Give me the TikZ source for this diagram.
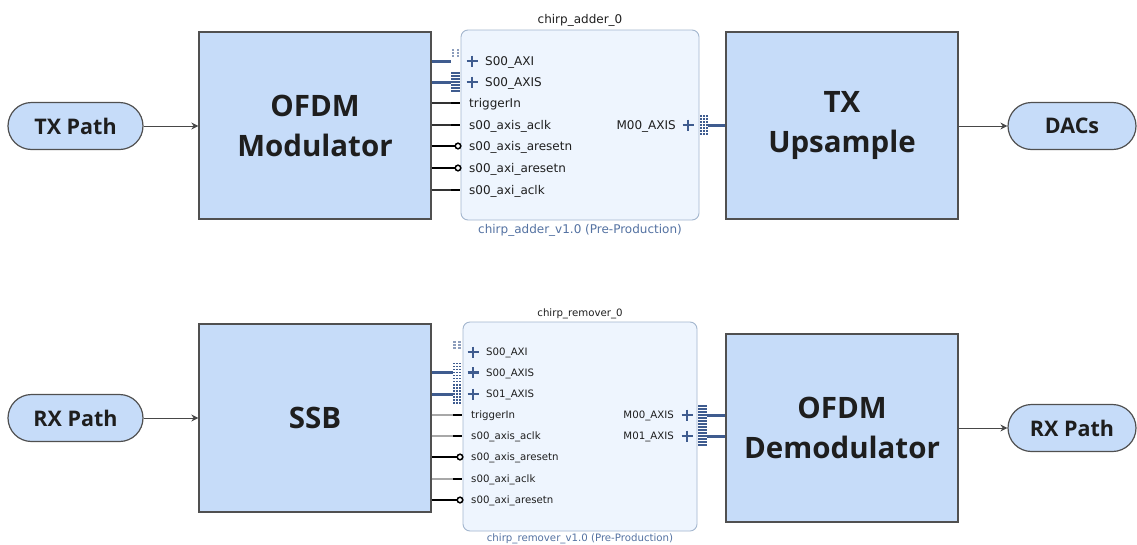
\documentclass[tikz,border=0pt]{standalone}
\usepackage{fontspec}
\newfontfamily\lblfont{Open Sans}
\newfontfamily\pinfont{DejaVu Sans}
\usetikzlibrary{arrows.meta}
\definecolor{blkfill}{HTML}{C6DCF9}
\definecolor{blkdraw}{HTML}{505050}
\definecolor{ipfill}{HTML}{EEF5FE}
\definecolor{ipdraw}{HTML}{A3B6CE}
\definecolor{buscol}{HTML}{3F5C8F}
\definecolor{subcol}{HTML}{5472A2}
\definecolor{txtcol}{HTML}{1E1E1E}
\definecolor{wiregray}{HTML}{A8A8A8}
\tikzset{
  blk/.style={draw=blkdraw, fill=blkfill, line width=1.3pt, align=center,
    text=txtcol, inner sep=0pt, minimum width=232pt,
    font=\lblfont\bfseries\fontsize{29.5}{40}\selectfont},
  pill/.style={draw=blkdraw, fill=blkfill, line width=1.2pt, rounded corners=23.5pt,
    minimum height=47pt, inner sep=0pt, text=txtcol,
    font=\lblfont\bfseries\fontsize{21.5}{26}\selectfont},
  ip/.style={draw=ipdraw, fill=ipfill, line width=0.9pt, rounded corners=7pt, inner sep=0pt},
  pinA/.style={font=\pinfont\fontsize{12}{14}\selectfont, text=txtcol, inner sep=0pt},
  pinB/.style={font=\pinfont\fontsize{10.2}{12}\selectfont, text=txtcol, inner sep=0pt},
  subA/.style={font=\pinfont\fontsize{12}{14}\selectfont, text=subcol, inner sep=0pt},
  subB/.style={font=\pinfont\fontsize{10.2}{12}\selectfont, text=subcol, inner sep=0pt},
  arr/.style={draw=blkdraw!90!black, line width=1pt, -{Stealth[length=7pt,width=7pt]}},
  bus/.style={draw=buscol, line width=3pt},
  wire/.style={draw=black!80, line width=1.2pt},
  lwire/.style={draw=wiregray, line width=1.2pt},
  rwire/.style={draw=black, line width=1.8pt},
  stub/.style={draw=black, line width=2.5pt},
  plusmark/.style={draw=buscol, line width=2.2pt},
  busicon/.pic={
    \foreach \i in {-9,-6,...,9}{\foreach \j in {-3,0,3}{
      \fill[buscol] (\j-1.1,\i-0.9) rectangle (\j+1.1,\i+0.9);}}
  },
  busiconlight/.pic={
    \foreach \i in {-8,-5,-2}{\foreach \j in {-2.5,2.5}{
      \fill[buscol!60] (\j-1.1,\i-0.9) rectangle (\j+1.1,\i+0.9);}}
  }
}
\begin{document}
\begin{tikzpicture}[x=1pt,y=-1pt]
\useasboundingbox[fill=white] (0,0) rectangle (1137,544);

% ---------------- top row ----------------
\node[pill, minimum width=135pt] (txp) at (75.5,126) {TX Path};
\node[blk, minimum height=187pt] (mod) at (315,125.5) {OFDM\\Modulator};
\node[ip, minimum width=238pt, minimum height=190pt] (adder) at (580,125) {};
\node[blk, minimum height=187pt] (ups) at (842,125.5) {TX\\Upsample};
\node[pill, minimum width=128pt] (dacs) at (1072,126) {DACs};
\node[pinA, anchor=base] (adtitle) at (580,23.5) {chirp\_adder\_0};
\node[subA, anchor=base] (adsub) at (580,233.5) {chirp\_adder\_v1.0 (Pre-Production)};

\draw[arr] (txp.east) -- (mod.west |- txp.east);
\draw[arr] (ups.east |- dacs.west) -- (dacs.west);

% adder bus pins (left)
\coordinate (aS0) at (451,61);
\coordinate (aS1) at (451,82);
\pic at (455.5,58) {busiconlight};
\pic at (455.5,82) {busicon};
\draw[bus] (mod.east |- aS0) -- (aS0);
\draw[bus] (mod.east |- aS1) -- (aS1);
\foreach \y/\t in {61/S00\_AXI, 82/S00\_AXIS}{
  \draw[plusmark] (466.5,\y) -- (477.5,\y) (472,\y-5.5) -- (472,\y+5.5);
  \node[pinA, anchor=base west] at (485,\y+4.4) {\t};
}
% adder simple pins
\foreach \y/\t in {103/triggerIn, 125/s00\_axis\_aclk, 190/s00\_axi\_aclk}{
  \coordinate (p) at (451,\y);
  \draw[wire] (mod.east |- p) -- (p);
  \draw[stub] (p) -- (460,\y);
  \node[pinA, anchor=base west] at (469,\y+4.4) {\t};
}
\foreach \y/\t in {146/s00\_axis\_aresetn, 168/s00\_axi\_aresetn}{
  \coordinate (p) at (455.2,\y);
  \draw[rwire] (mod.east |- p) -- (p);
  \draw[draw=black, fill=white, line width=1.5pt] (458,\y) circle (2.8pt);
  \node[pinA, anchor=base west] at (469,\y+4.4) {\t};
}
% adder output
\coordinate (aM0) at (708,125);
\pic at (704,125) {busicon};
\draw[bus] (aM0) -- (ups.west |- aM0);
\draw[plusmark] (682.5,125) -- (693.5,125) (688,119.5) -- (688,130.5);
\node[pinA, anchor=base east] at (676,129.4) {M00\_AXIS};

% ---------------- bottom row ----------------
\node[pill, minimum width=135pt] (rxin) at (75.5,418) {RX Path};
\node[blk, minimum height=188pt] (ssb) at (315,418) {SSB};
\node[ip, minimum width=234pt, minimum height=209pt] (remover) at (580,426.5) {};
\node[blk, minimum height=188pt] (demod) at (842,428) {OFDM\\Demodulator};
\node[pill, minimum width=128pt] (rxout) at (1072,428) {RX Path};
\node[pinB, anchor=base] (rmtitle) at (580,316.5) {chirp\_remover\_0};
\node[subB, anchor=base] (rmsub) at (580,541.5) {chirp\_remover\_v1.0 (Pre-Production)};

\draw[arr] (rxin.east) -- (ssb.west |- rxin.east);
\draw[arr] (demod.east |- rxout.west) -- (rxout.west);

% remover bus pins
\coordinate (rS1) at (453,372.5);
\coordinate (rS2) at (453,394);
\pic at (457,350) {busiconlight};
\pic at (457,372.5) {busicon};
\pic at (457,394) {busicon};
\draw[bus] (ssb.east |- rS1) -- (rS1);
\draw[bus] (ssb.east |- rS2) -- (rS2);
\foreach \y/\t in {352/S00\_AXI, 372.5/S00\_AXIS, 394/S01\_AXIS}{
  \draw[plusmark] (467.5,\y) -- (478.5,\y) (473,\y-5.5) -- (473,\y+5.5);
  \node[pinB, anchor=base west] at (486,\y+3.7) {\t};
}
\foreach \y/\t in {415/triggerIn, 436/s00\_axis\_aclk, 479/s00\_axi\_aclk}{
  \coordinate (p) at (453,\y);
  \draw[lwire] (ssb.east |- p) -- (p);
  \draw[stub] (p) -- (462,\y);
  \node[pinB, anchor=base west] at (471,\y+3.7) {\t};
}
\foreach \y/\t/\w in {457/s00\_axis\_aresetn/1.8, 500/s00\_axi\_aresetn/1.2}{
  \coordinate (p) at (457.2,\y);
  \draw[draw=black, line width=\w pt] (ssb.east |- p) -- (p);
  \draw[draw=black, fill=white, line width=1.5pt] (460,\y) circle (2.8pt);
  \node[pinB, anchor=base west] at (471,\y+3.7) {\t};
}
% remover outputs
\pic at (702.5,415) {busicon};
\pic at (702.5,436) {busicon};
\foreach \y/\t in {415/M00\_AXIS, 436/M01\_AXIS}{
  \coordinate (q) at (707,\y);
  \draw[bus] (q) -- (demod.west |- q);
  \draw[plusmark] (681.5,\y) -- (692.5,\y) (687,\y-5.5) -- (687,\y+5.5);
  \node[pinB, anchor=base east] at (674,\y+3.7) {\t};
}
\end{tikzpicture}
\end{document}
